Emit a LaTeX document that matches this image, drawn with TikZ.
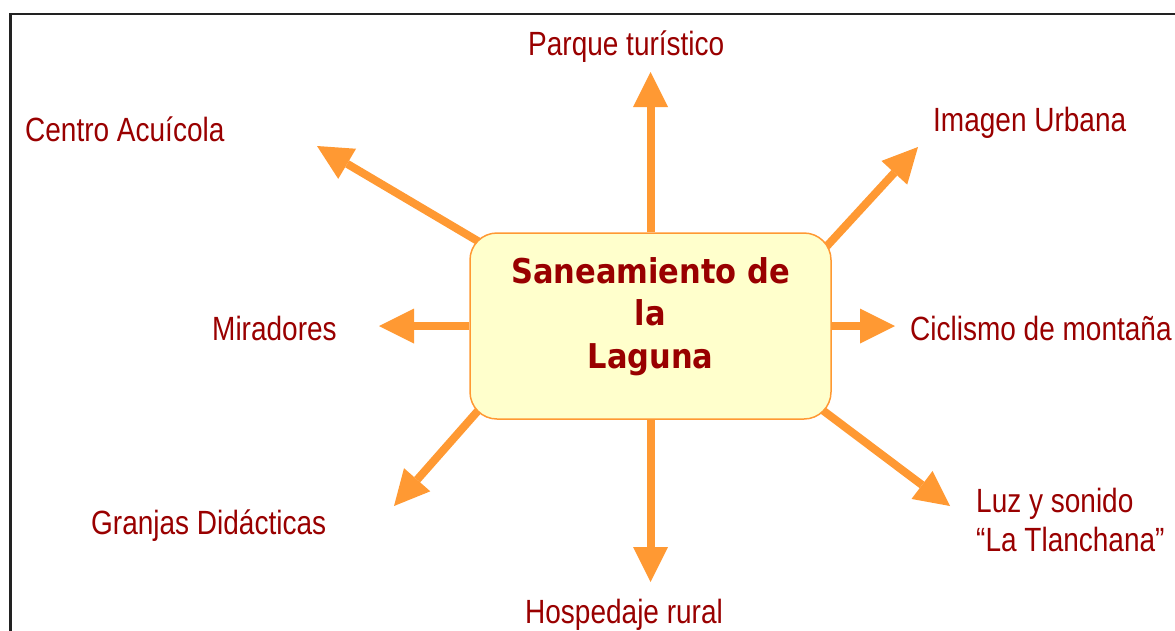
\documentclass[tikz,border=0pt]{standalone}
\usepackage{fontspec}
\setmainfont{Liberation Sans}
\newfontfamily\boldfont{DejaVu Sans}
\usetikzlibrary{arrows.meta,backgrounds}
\definecolor{arrowor}{HTML}{FF9933}
\definecolor{labred}{HTML}{990000}
\definecolor{boxfill}{HTML}{FFFFCC}
\definecolor{framecol}{HTML}{222222}
\newcommand{\tallt}[1]{\scalebox{1}[1.2]{#1}}
\begin{document}
\begin{tikzpicture}[x=1pt,y=-1pt,
  lab/.style={anchor=base west,inner sep=0pt,text=labred,font=\fontsize{28}{33.3}\selectfont},
  conn/.style={draw=arrowor,line width=8pt,-{Triangle[width=35pt,length=35pt,line width=0pt]}},
  centerbox/.style={draw=arrowor,line width=1.5pt,fill=boxfill,rounded corners=27pt,
    minimum width=361pt,minimum height=186pt,inner sep=0pt,
    text height=20pt,text depth=106pt,text=labred,
    font=\boldfont\bfseries\fontsize{30.5}{38}\selectfont}]
\useasboundingbox (0,0) rectangle (1175,630);
\draw[framecol,line width=2.3pt] (10.5,631) -- (10.5,13.7) -- (1176,13.7);

\node[centerbox] (box) at (650.5,326) {\scalebox{1}[1.12]{\begin{tabular}[t]{@{}c@{}}Saneamiento de\\la\\Laguna\end{tabular}}};

\coordinate (tUp) at (650.5,72);
\coordinate (tUL) at (317,146);
\coordinate (tUR) at (918,147);
\coordinate (tL) at (379,326);
\coordinate (tR) at (895,326);
\coordinate (tDL) at (394,506);
\coordinate (tD) at (650.5,582);
\coordinate (tDR) at (950,506);

\begin{scope}[on background layer]
\draw[conn] (box.north) -- (tUp);
\draw[conn] (box.south) -- (tD);
\draw[conn] (box.west) -- (tL);
\draw[conn] (box.east) -- (tR);
\draw[conn] ([shift={(14,12)}]box.north west) -- (tUL);
\draw[conn] ([shift={(-5,14)}]box.north east) -- (tUR);
\draw[conn] ([shift={(14,-15)}]box.south west) -- (tDL);
\draw[conn] ([shift={(-15,-14)}]box.south east) -- (tDR);
\end{scope}

\node[lab] (parque) at (528,55) {\tallt{Parque turístico}};
\node[lab] (centro) at (25,141) {\tallt{Centro Acuícola}};
\node[lab] (imagen) at (933,131) {\tallt{Imagen Urbana}};
\node[lab] (mirad) at (212,340) {\tallt{Miradores}};
\node[lab] (ciclis) at (910,340) {\tallt{Ciclismo de montaña}};
\node[lab] (granjas) at (91,534) {\tallt{Granjas Didácticas}};
\node[lab] (luz) at (976,512) {\tallt{\begin{tabular}[t]{@{}l@{}}Luz y sonido\\“La Tlanchana”\end{tabular}}};
\node[lab] (hosp) at (525,623) {\tallt{Hospedaje rural}};
\end{tikzpicture}
\end{document}
